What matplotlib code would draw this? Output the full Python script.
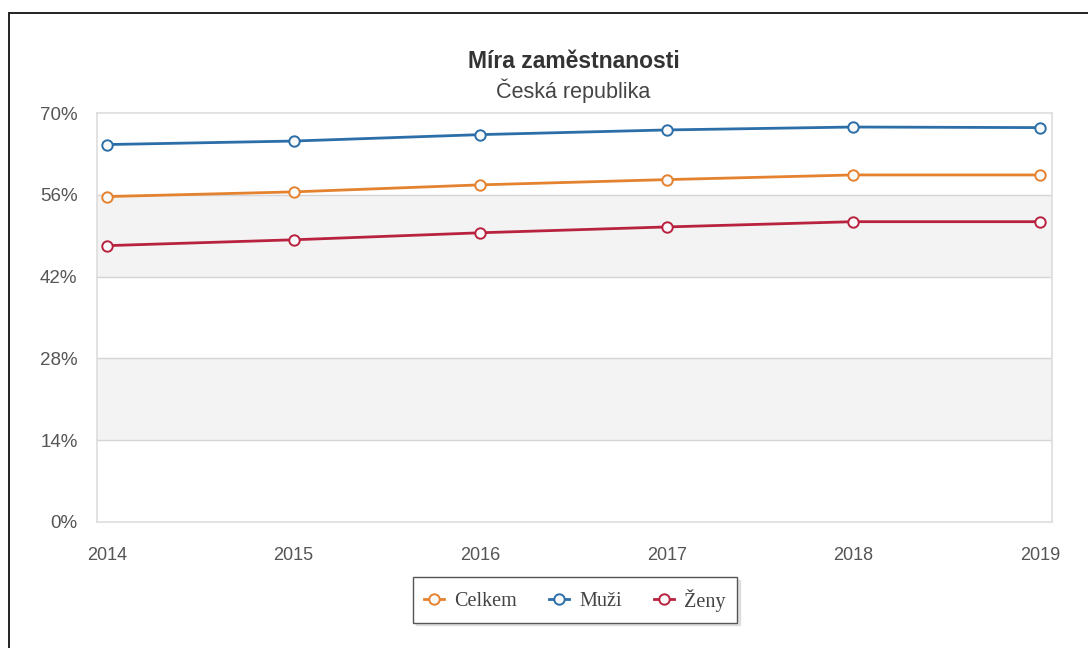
import matplotlib.pyplot as plt
from matplotlib.patches import Rectangle

# data
years = [2014, 2015, 2016, 2017, 2018, 2019]
celkem = [55.7, 56.5, 57.7, 58.6, 59.4, 59.4]
muzi = [64.6, 65.2, 66.3, 67.1, 67.6, 67.5]
zeny = [47.3, 48.3, 49.5, 50.5, 51.4, 51.4]
y_ticks = [0, 14, 28, 42, 56, 70]

W, H = 1088, 648
fig = plt.figure(figsize=(W / 100, H / 100), dpi=100)

# outer border of the screenshot
fig.add_artist(Rectangle((9 / W, -0.01), 1.0, (H - 13) / H + 0.01, transform=fig.transFigure,
                         fill=False, edgecolor='#222222', linewidth=1.4))

ax = fig.add_axes([97 / W, (H - 522) / H, (1052 - 97) / W, (522 - 113) / H])

# alternating bands
for lo in (14, 42):
    ax.axhspan(lo, lo + 14, color='#f3f3f3', zorder=0, lw=0)
for t in y_ticks[1:-1]:
    ax.axhline(t, color='#d5d5d5', lw=1, zorder=1)

series = [('Celkem', celkem, '#e4822f'), ('Muži', muzi, '#2b6ea8'), ('Ženy', zeny, '#b9223f')]
handles = []
for name, vals, col in series:
    h, = ax.plot(years, vals, color=col, lw=2.0, marker='o', ms=7.5,
                 mfc='#fafafa', mec=col, mew=1.4, zorder=3, label=name)
    handles.append(h)

ax.set_xlim(2014 - 0.054, 2019 + 0.065)
ax.set_ylim(0, 70)
ax.set_yticks(y_ticks)
ax.set_yticklabels([f'{t}%' for t in y_ticks])
ax.set_xticks(years)
ax.tick_params(length=0, labelsize=13, labelcolor='#555555')
ax.tick_params(axis='y', pad=14, labelsize=13.5)
ax.tick_params(axis='x', pad=18)
for lab in ax.get_xticklabels() + ax.get_yticklabels():
    lab.set_family('Liberation Sans')
for s in ax.spines.values():
    s.set_color('#dddddd')
    s.set_linewidth(1.2)

fig.text(574 / W, 1 - 61 / H, 'Míra zaměstnanosti', ha='center', va='center',
         fontsize=16.5, fontweight='bold', color='#333333', family='Liberation Sans')
fig.text(573 / W, 1 - 91 / H, 'Česká republika', ha='center', va='center',
         fontsize=15.5, color='#444444', family='Liberation Sans')

leg = fig.legend(handles=handles, loc='center', bbox_to_anchor=(575 / W, 1 - 600 / H),
                 ncol=3, frameon=True, fancybox=False, handlelength=1.0,
                 columnspacing=1.6, handletextpad=0.5, borderpad=0.55,
                 prop={'family': 'Liberation Serif', 'size': 14.5},
                 shadow={'color': '#c8c8c8', 'ox': 2, 'oy': -2})
leg.get_frame().set_edgecolor('#555555')
leg.get_frame().set_linewidth(1.0)
for t in leg.get_texts():
    t.set_color('#444444')

fig.savefig('out.png', dpi=100)
